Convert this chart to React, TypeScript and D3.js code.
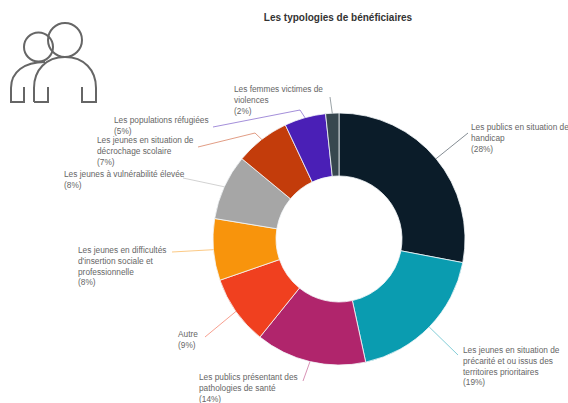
import React from 'react';
import * as d3 from 'd3';

const title = 'Les typologies de bénéficiaires';

const labels = [
  ['Les publics en situation de', 'handicap'],
  ['Les jeunes en situation de', 'précarité et ou issus des', 'territoires prioritaires'],
  ['Les publics présentant des', 'pathologies de santé'],
  ['Autre'],
  ['Les jeunes en difficultés', "d'insertion sociale et", 'professionnelle'],
  ['Les jeunes à vulnérabilité élevée'],
  ['Les jeunes en situation de', 'décrochage scolaire'],
  ['Les populations réfugiées'],
  ['Les femmes victimes de', 'violences'],
];
const values = [28, 18.6, 14.2, 8.9, 7.9, 8.4, 7, 5.3, 1.7];
const colors = ['#0b1c29', '#0a9cb0', '#b0256c', '#f0401f', '#f8940c', '#a6a6a6', '#c33c0b', '#4a1fb6', '#37474f'];

// label block: x, y of the first line centre, end of the leader line, optional elbow
const layout = [
  { x: 471, y: 128, end: [468, 133] },
  { x: 463, y: 351, end: [458, 355] },
  { x: 199, y: 378, end: [303, 381] },
  { x: 178, y: 335, end: [205, 337] },
  { x: 78, y: 251, end: [172, 252] },
  { x: 64, y: 175, end: [183, 178] },
  { x: 97, y: 141, end: [198, 147], elbow: [255, 133] },
  { x: 114, y: 121, end: [213, 127], elbow: [300, 110] },
  { x: 234, y: 90, end: [330, 97] },
];

const width = 568;
const height = 403;
const cx = 339;
const cy = 239;
const outerR = 126;
const innerR = 63;
const lineH = 10.8;

const pie = d3.pie<number>().sort(null).value(d => d);
const arc = d3.arc<d3.PieArcDatum<number>>().innerRadius(innerR).outerRadius(outerR);
const lineGen = d3.line();

export default function App() {
  const slices = pie(values);
  return (
    <svg
      width={width}
      height={height}
      style={{ position: 'absolute', left: 0, top: 0, background: '#fff' }}
      fontFamily="'Liberation Sans', Arial, sans-serif"
    >
      <text x={338} y={18} textAnchor="middle" dominantBaseline="middle" fontSize={10} fontWeight="bold" fill="#333">
        {title}
      </text>

      {/* people icon */}
      <g fill="none" stroke="#666" strokeWidth={2}>
        <circle cx={38.5} cy={47} r={14.5} />
        <circle cx={65} cy={40} r={17} />
        <path d="M34,102 H48 V87 M82,87 V102 H96 V88 C96,70 84,57 65,57 C46,57 34,70 34,88 V102" />
        <path d="M45,62 C24,62 11,72 11,88 V102 H24 V87" />
      </g>

      <g transform={`translate(${cx},${cy})`}>
        {slices.map((s, i) => (
          <path key={i} d={arc(s) || ''} fill={colors[i]} stroke="#f4f8fa" strokeWidth={0.8} />
        ))}
      </g>

      {slices.map((s, i) => {
        const l = layout[i];
        const mid = (s.startAngle + s.endAngle) / 2;
        const start: [number, number] = [cx + outerR * Math.sin(mid), cy - outerR * Math.cos(mid)];
        const pts: [number, number][] = l.elbow
          ? [start, l.elbow as [number, number], l.end as [number, number]]
          : [start, l.end as [number, number]];
        return (
          <path key={i} d={lineGen(pts) || ''} fill="none" stroke={colors[i]} strokeOpacity={0.5} strokeWidth={1} />
        );
      })}

      {labels.map((lines, i) => (
        <text key={i} fontSize={8.3} fill="#666" dominantBaseline="middle">
          {[...lines, `(${Math.round(values[i])}%)`].map((t, j) => (
            <tspan key={j} x={layout[i].x} y={layout[i].y + j * lineH}>
              {t}
            </tspan>
          ))}
        </text>
      ))}
    </svg>
  );
}
